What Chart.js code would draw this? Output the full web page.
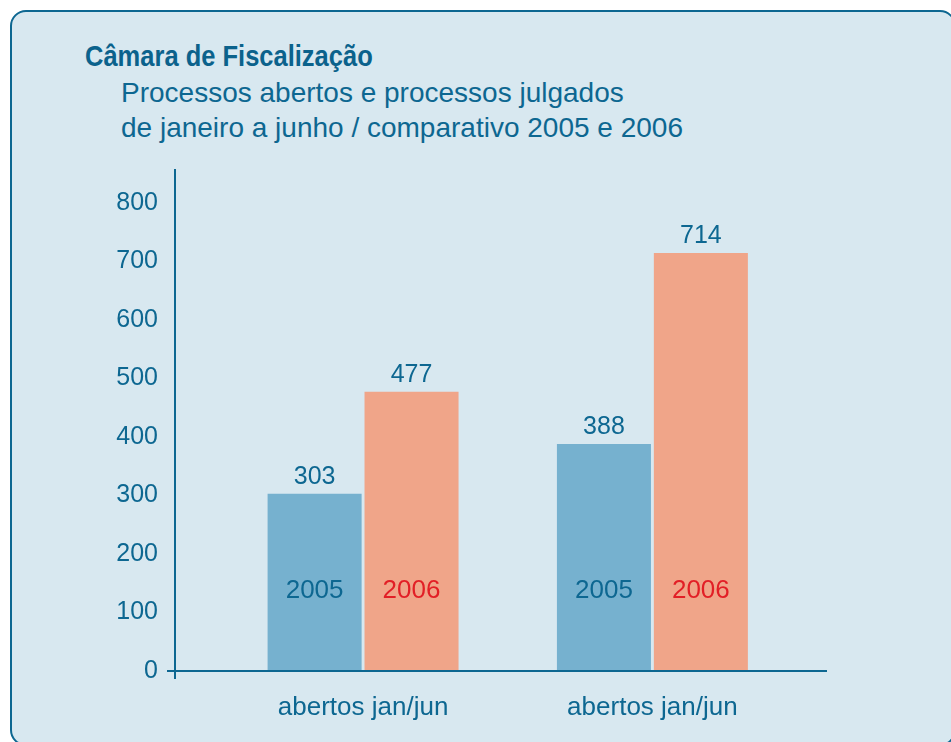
<!DOCTYPE html>
<html>
<head>
<meta charset="utf-8">
<script src="https://cdn.jsdelivr.net/npm/chart.js@4.4.1/dist/chart.umd.min.js"></script>
<style>
  body { margin: 0; width: 951px; height: 742px; overflow: hidden; position: relative; background: #fff; font-family: "Liberation Sans", Arial, sans-serif; }
  #box { position: absolute; left: 10px; top: 10px; width: 946px; height: 736px; box-sizing: border-box; border: 2.5px solid #0d6791; border-radius: 16px; background: #d8e8f0; }
  #title { position: absolute; left: 85px; top: 41px; font-size: 30px; line-height: 30px; font-weight: bold; color: #0b628c; white-space: nowrap; transform: scaleX(0.85); transform-origin: left center; }
  #sub { position: absolute; left: 121px; top: 75px; font-size: 28px; line-height: 35px; color: #0d6791; white-space: nowrap; }
  #myChart { position: absolute; left: 0; top: 0; }
</style>
</head>
<body>
<div id="box"></div>
<div id="title">Câmara de Fiscalização</div>
<div id="sub">Processos abertos e processos julgados<br>de janeiro a junho / comparativo 2005 e 2006</div>
<canvas id="myChart" width="951" height="742"></canvas>
<script>
const categories = ['abertos jan/jun', 'abertos jan/jun'];
const years = ['2005', '2006'];
const values2005 = [303, 388];
const values2006 = [477, 714];
const yTicks = [0, 100, 200, 300, 400, 500, 600, 700, 800];

const teal = '#0d6791';
const yearColors = [teal, '#e21f26'];

// 値ラベル（棒の上）と年ラベル（棒の中）
const barLabels = {
    id: 'barLabels',
    afterDatasetsDraw(chart) {
        const ctx = chart.ctx;
        ctx.save();
        ctx.textAlign = 'center';
        ctx.textBaseline = 'middle';
        chart.data.datasets.forEach((ds, di) => {
            chart.getDatasetMeta(di).data.forEach((bar, i) => {
                ctx.font = '25px "Liberation Sans", Arial, sans-serif';
                ctx.fillStyle = teal;
                ctx.fillText(ds.data[i].y, bar.x, bar.y - 17);
                ctx.font = '26px "Liberation Sans", Arial, sans-serif';
                ctx.fillStyle = yearColors[di];
                ctx.fillText(years[di], bar.x, bar.base - 79);
            });
        });
        // y軸の下への少しの延長
        const a = chart.chartArea;
        ctx.strokeStyle = teal;
        ctx.lineWidth = 2;
        ctx.beginPath();
        ctx.moveTo(a.left, a.bottom);
        ctx.lineTo(a.left, a.bottom + 8);
        ctx.stroke();
        ctx.restore();
    }
};

const data = {
    datasets: [
        {
            label: years[0],
            backgroundColor: '#76b1cf',
            data: values2005.map((v, i) => ({ x: i, y: v })),
        },
        {
            label: years[1],
            backgroundColor: '#f0a589',
            data: values2006.map((v, i) => ({ x: i, y: v })),
        }
    ]
};

const config = {
    type: 'bar',
    data: data,
    options: {
        responsive: false,
        animation: false,
        categoryPercentage: 0.67,
        barPercentage: 0.97,
        layout: {
            padding: { left: 0, right: 125, top: 170, bottom: 0 }
        },
        scales: {
            x: {
                type: 'linear',
                offset: false,
                min: -0.65,
                max: 1.6,
                afterBuildTicks: (scale) => {
                    scale.ticks = categories.map((c, i) => ({ value: i }));
                },
                afterFit: (scale) => { scale.height = 71; },
                grid: { display: false, offset: false },
                border: { display: true, color: teal, width: 2 },
                ticks: {
                    callback: (value, index) => categories[index],
                    color: teal,
                    font: { family: 'Liberation Sans', size: 26 },
                    padding: 13,
                    maxRotation: 0,
                    autoSkip: false
                }
            },
            y: {
                min: 0,
                max: 856,
                afterBuildTicks: (scale) => {
                    scale.ticks = yTicks.map(v => ({ value: v }));
                },
                afterFit: (scale) => { scale.width = 175; },
                grid: {
                    drawOnChartArea: false,
                    tickLength: 8,
                    lineWidth: 2,
                    color: (c) => (c.tick && c.tick.value === 0) ? teal : 'rgba(0,0,0,0)'
                },
                border: { display: true, color: teal, width: 2 },
                ticks: {
                    color: teal,
                    font: { family: 'Liberation Sans', size: 25 },
                    padding: 9
                }
            }
        },
        plugins: {
            legend: { display: false },
            tooltip: { enabled: false }
        }
    },
    plugins: [barLabels]
};

const myChart = new Chart(document.getElementById('myChart').getContext('2d'), config);
</script>
</body>
</html>
